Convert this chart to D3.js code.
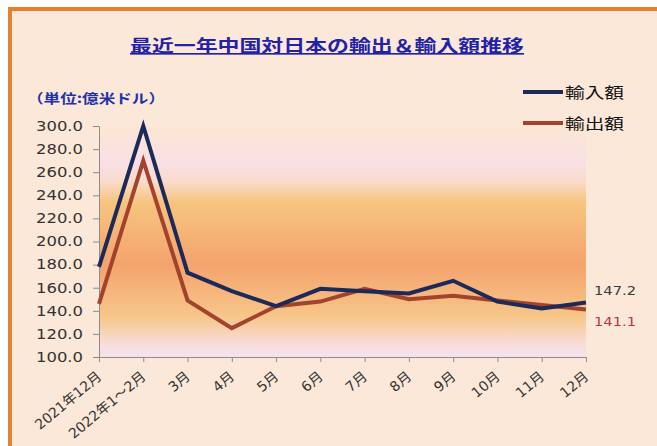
<!DOCTYPE html>
<html>
<head>
<meta charset="utf-8">
<script src="https://cdn.jsdelivr.net/npm/d3@7"></script>
<style>
	body { margin: 0; background: #ffffff; }
	svg text { font-family: "DejaVu Sans", "Noto Sans CJK JP", sans-serif; }
	.jp { font-family: "Noto Sans CJK JP", sans-serif; }
</style>
</head>
<body>
<svg id="viz"></svg>
<script>
// chart data
const months = ["2021年12月", "2022年1～2月", "3月", "4月", "5月", "6月", "7月", "8月", "9月", "10月", "11月", "12月"];
const imports = [178, 300, 173, 157, 144, 159, 157, 155, 166, 148, 142, 147.2];
const exports = [146, 270, 149, 125, 144, 148, 159, 150, 153, 149, 145, 141.1];
const yTicks = [100, 120, 140, 160, 180, 200, 220, 240, 260, 280, 300];

const width = 657;
const height = 446;

const margin = {
	top: 126,
	right: 71,
	bottom: 89,
	left: 99
};

const plotWidth = width - margin.left - margin.right;
const plotHeight = height - margin.top - margin.bottom;

const navy = "#1c2a5a";
const brown = "#a2432d";

const svg = d3.select("svg#viz")
	.attr("width", width)
	.attr("height", height);

// gradient for the plot area
const defs = svg.append("defs");
const grad = defs.append("linearGradient")
	.attr("id", "plotBg")
	.attr("x1", 0).attr("y1", 0).attr("x2", 0).attr("y2", 1);
[
	[0, "#fbe7d3"],
	[0.16, "#f9dfe6"],
	[0.24, "#fadccb"],
	[0.33, "#f7c47f"],
	[0.6, "#f4a36d"],
	[0.83, "#f7c78a"],
	[0.94, "#f8dcd7"],
	[1, "#f6e3ee"]
].forEach(s => grad.append("stop").attr("offset", s[0]).attr("stop-color", s[1]));

// outer frame
svg.append("rect")
	.attr("x", 0).attr("y", 0).attr("width", width).attr("height", height)
	.attr("fill", "#ffffff");
svg.append("rect")
	.attr("x", 10).attr("y", 9).attr("width", width).attr("height", height)
	.attr("fill", "#fce8d9")
	.attr("stroke", "#e4822f")
	.attr("stroke-width", 4);

const plot = svg.append("g")
	.attr("transform", translate(margin.left, margin.top));

const x = d3.scalePoint()
	.domain(months)
	.range([0, plotWidth]);

const y = d3.scaleLinear()
	.domain([100, 300])
	.range([plotHeight, 0]);

plot.append("rect")
	.attr("width", plotWidth)
	.attr("height", plotHeight)
	.attr("fill", "url(#plotBg)");

// axes
const yAxis = d3.axisLeft(y)
	.tickValues(yTicks)
	.tickFormat(d3.format(".1f"))
	.tickSize(6)
	.tickSizeOuter(0);

plot.append("g")
	.attr("id", "y-axis")
	.call(yAxis)
	.call(g => g.select(".domain").attr("stroke", "#8c8c8c"))
	.call(g => g.selectAll(".tick line").attr("stroke", "#8c8c8c"))
	.call(g => g.selectAll(".tick text")
		.attr("x", -16)
		.attr("fill", "#333333")
		.attr("textLength", 47)
		.attr("lengthAdjust", "spacingAndGlyphs")
		.style("font-size", "13.5px")
		.style("font-family", "DejaVu Sans, sans-serif"));

const xAxis = d3.axisBottom(x)
	.tickSize(5)
	.tickSizeOuter(0);

plot.append("g")
	.attr("id", "x-axis")
	.attr("transform", translate(0, plotHeight))
	.call(xAxis)
	.call(g => g.select(".domain").attr("stroke", "#8c8c8c"))
	.call(g => g.selectAll(".tick line").attr("stroke", "#8c8c8c"))
	.call(g => g.selectAll(".tick text")
		.attr("fill", "#333333")
		.style("font-size", "14px")
		.attr("text-anchor", "end")
		.attr("dy", null)
		.attr("y", 0)
		.attr("transform", "translate(3,21) rotate(-40)"));

// lines
const line = d3.line()
	.x((d, i) => x(months[i]))
	.y(d => y(d));

plot.append("path")
	.datum(exports)
	.attr("fill", "none")
	.attr("stroke", brown)
	.attr("stroke-width", 4)
	.attr("d", line);

plot.append("path")
	.datum(imports)
	.attr("fill", "none")
	.attr("stroke", navy)
	.attr("stroke-width", 4)
	.attr("d", line);

// end labels
const last = months[months.length - 1];
plot.append("text")
	.attr("x", x(last) + 8)
	.attr("y", y(imports[imports.length - 1]) - 7)
	.attr("fill", "#3a3a3a")
	.attr("textLength", 42)
	.attr("lengthAdjust", "spacingAndGlyphs")
	.style("font-size", "13px")
	.text(imports[imports.length - 1].toFixed(1));

plot.append("text")
	.attr("x", x(last) + 8)
	.attr("y", y(exports[exports.length - 1]) + 16)
	.attr("fill", "#b23a3a")
	.attr("textLength", 42)
	.attr("lengthAdjust", "spacingAndGlyphs")
	.style("font-size", "13px")
	.text(exports[exports.length - 1].toFixed(1));

// title
svg.append("text")
	.attr("class", "jp")
	.attr("x", 130)
	.attr("y", 52)
	.attr("fill", "#2222a8")
	.attr("text-decoration", "underline")
	.attr("textLength", 394)
	.attr("lengthAdjust", "spacingAndGlyphs")
	.style("font-size", "16.5px")
	.style("font-weight", "bold")
	.text("最近一年中国対日本の輸出＆輸入額推移");

// unit
svg.append("text")
	.attr("class", "jp")
	.attr("x", 27)
	.attr("y", 103)
	.attr("fill", "#2233aa")
	.attr("textLength", 138)
	.attr("lengthAdjust", "spacingAndGlyphs")
	.style("font-size", "13px")
	.style("font-weight", "bold")
	.text("（単位:億米ドル）");

// legend
const legendItems = [
	{ name: "輸入額", color: navy },
	{ name: "輸出額", color: brown }
];
const legend = svg.append("g")
	.attr("transform", translate(523, 92));

legend.selectAll("line")
	.data(legendItems)
	.enter().append("line")
	.attr("x1", 0).attr("x2", 40)
	.attr("y1", (d, i) => i * 31)
	.attr("y2", (d, i) => i * 31)
	.attr("stroke", d => d.color)
	.attr("stroke-width", 4);

legend.selectAll("text")
	.data(legendItems)
	.enter().append("text")
	.attr("class", "jp")
	.attr("x", 42)
	.attr("y", (d, i) => i * 31 + 6)
	.attr("fill", "#111111")
	.attr("textLength", 59)
	.attr("lengthAdjust", "spacingAndGlyphs")
	.style("font-size", "15px")
	.text(d => d.name);

function translate(x, y) {
	return 'translate(' + x + ',' + y + ')';
}
</script>
</body>
</html>
